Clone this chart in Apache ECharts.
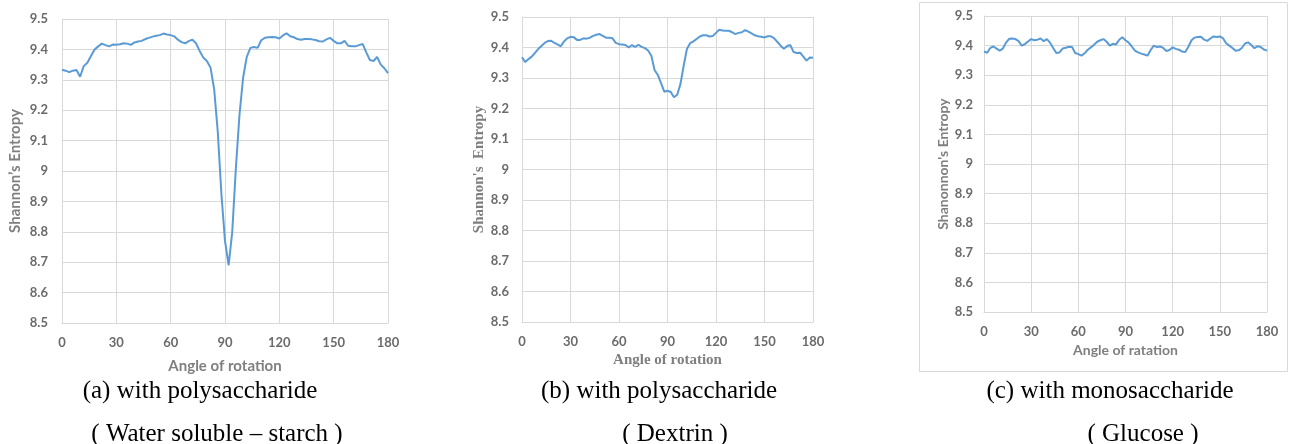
<!DOCTYPE html>
<html>
<head>
<meta charset="utf-8">
<script src="https://cdn.jsdelivr.net/npm/echarts@6/dist/echarts.min.js"></script>
<style>
    html, body { margin: 0; padding: 0; background: #fff; }
    #entropy { width: 1289px; height: 444px; }
</style>
</head>
<body>
<div id="entropy"></div>
<script>
// angle of rotation (deg), 2 deg steps
var angles = [
    0, 2, 4, 6, 8, 10, 12, 14, 16, 18,
    20, 22, 24, 26, 28, 30, 32, 34, 36, 38,
    40, 42, 44, 46, 48, 50, 52, 54, 56, 58,
    60, 62, 64, 66, 68, 70, 72, 74, 76, 78,
    80, 82, 84, 86, 88, 90, 92, 94, 96, 98,
    100, 102, 104, 106, 108, 110, 112, 114, 116, 118,
    120, 122, 124, 126, 128, 130, 132, 134, 136, 138,
    140, 142, 144, 146, 148, 150, 152, 154, 156, 158,
    160, 162, 164, 166, 168, 170, 172, 174, 176, 178,
    180
];

// (a) water soluble starch
var entropyA = [
    9.333, 9.330, 9.325, 9.330, 9.332, 9.310, 9.345, 9.356, 9.378, 9.400,
    9.410, 9.419, 9.414, 9.410, 9.416, 9.415, 9.417, 9.420, 9.419, 9.415,
    9.423, 9.426, 9.428, 9.434, 9.438, 9.442, 9.445, 9.447, 9.452, 9.449,
    9.447, 9.443, 9.432, 9.424, 9.420, 9.427, 9.432, 9.420, 9.395, 9.373,
    9.362, 9.340, 9.270, 9.130, 8.925, 8.770, 8.690, 8.800, 9.010, 9.185,
    9.307, 9.375, 9.405, 9.408, 9.405, 9.430, 9.438, 9.440, 9.441, 9.440,
    9.436, 9.446, 9.453, 9.443, 9.440, 9.434, 9.432, 9.434, 9.434, 9.433,
    9.431, 9.427, 9.426, 9.433, 9.438, 9.428, 9.420, 9.420, 9.428, 9.412,
    9.410, 9.410, 9.414, 9.418, 9.390, 9.365, 9.362, 9.375, 9.350, 9.338,
    9.322
];

// (b) dextrin
var entropyB = [
    9.368, 9.352, 9.362, 9.370, 9.382, 9.395, 9.405, 9.415, 9.421, 9.422,
    9.415, 9.410, 9.404, 9.420, 9.430, 9.435, 9.434, 9.425, 9.425, 9.430,
    9.429, 9.432, 9.438, 9.442, 9.444, 9.438, 9.432, 9.432, 9.430, 9.415,
    9.411, 9.410, 9.408, 9.400, 9.408, 9.402, 9.409, 9.402, 9.398, 9.390,
    9.373, 9.326, 9.310, 9.283, 9.255, 9.258, 9.254, 9.237, 9.245, 9.280,
    9.340, 9.395, 9.414, 9.420, 9.428, 9.436, 9.440, 9.440, 9.436, 9.438,
    9.448, 9.458, 9.456, 9.455, 9.455, 9.450, 9.444, 9.448, 9.450, 9.457,
    9.452, 9.446, 9.440, 9.437, 9.435, 9.433, 9.437, 9.437, 9.430, 9.418,
    9.406, 9.396, 9.405, 9.408, 9.385, 9.382, 9.383, 9.370, 9.357, 9.367,
    9.366
];

// (c) glucose
var entropyC = [
    9.380, 9.376, 9.392, 9.397, 9.390, 9.383, 9.390, 9.410, 9.423, 9.424,
    9.422, 9.415, 9.400, 9.405, 9.414, 9.422, 9.418, 9.420, 9.424, 9.415,
    9.422, 9.410, 9.392, 9.375, 9.377, 9.390, 9.393, 9.396, 9.395, 9.375,
    9.371, 9.366, 9.374, 9.386, 9.394, 9.403, 9.413, 9.418, 9.422, 9.413,
    9.400, 9.406, 9.404, 9.420, 9.428, 9.418, 9.410, 9.397, 9.383, 9.377,
    9.373, 9.370, 9.366, 9.385, 9.400, 9.395, 9.397, 9.392, 9.382, 9.385,
    9.394, 9.389, 9.386, 9.380, 9.378, 9.396, 9.418, 9.427, 9.429, 9.430,
    9.420, 9.416, 9.424, 9.431, 9.429, 9.431, 9.425, 9.408, 9.400, 9.392,
    9.383, 9.384, 9.392, 9.407, 9.411, 9.402, 9.391, 9.398, 9.395, 9.387,
    9.383
];

var xNames = ['Angle of rotation', 'Angle of rotation', 'Angle of ratation'];
var yNames = ["Shannon’s Entropy", "Shannon's  Entropy", "Shanonnon's Entropy"];
var captions = [
    ['(a) with polysaccharide', '( Water soluble \u2013 starch )'],
    ['(b) with polysaccharide', '( Dextrin )'],
    ['(c) with monosaccharide', '( Glucose )']
];

(function(){
    var entropy_chart = {
        $chart: null,
        gridColor: '#d9d9d9',
        lineColor: '#5b9bd5',

        init: function(){
            this.$chart = echarts.init(document.getElementById('entropy'), null, {renderer: 'canvas'});
            this.render();
        },

        pairs: function(vals) {
            return angles.map(function(a, i){ return [a, vals[i]]; });
        },

        xAxis: function(idx, name, font, size, gap) {
            return {
                type: 'value', gridIndex: idx, min: 0, max: 180, interval: 30,
                name: name, nameLocation: 'middle', nameGap: gap,
                nameTextStyle: {color: '#7f7f7f', fontSize: size, fontWeight: 'bold', fontFamily: font},
                axisLine: {show: true, lineStyle: {color: this.gridColor}},
                axisTick: {show: false},
                axisLabel: {color: '#6b6b6b', fontSize: 13, fontWeight: 'bold', fontFamily: 'Lato', margin: 13},
                splitLine: {show: true, lineStyle: {color: this.gridColor}}
            };
        },

        yAxis: function(idx, name, font, size, gap, labelMargin) {
            return {
                type: 'value', gridIndex: idx, min: 8.5, max: 9.5, interval: 0.1,
                name: name, nameLocation: 'middle', nameGap: gap,
                nameTextStyle: {color: '#7f7f7f', fontSize: size, fontWeight: 'bold', fontFamily: font},
                axisLine: {show: true, lineStyle: {color: this.gridColor}},
                axisTick: {show: false},
                axisLabel: {
                    color: '#6b6b6b', fontSize: 13, fontWeight: 'bold', fontFamily: 'Lato', margin: labelMargin,
                    formatter: function(v){ return String(Math.round(v * 10) / 10); }
                },
                splitLine: {show: true, lineStyle: {color: this.gridColor}}
            };
        },

        render: function() {
            var ctx = this;
            var series = [entropyA, entropyB, entropyC].map(function(vals, i){
                return {
                    type: 'line', xAxisIndex: i, yAxisIndex: i,
                    data: ctx.pairs(vals), symbol: 'none', smooth: false,
                    lineStyle: {color: ctx.lineColor, width: 2}
                };
            });

            // caption centres, line 1 / line 2
            var centers = [[200, 217], [659, 675], [1110, 1143]];
            var graphic = [{
                type: 'rect', shape: {x: 919.5, y: 2.5, width: 368, height: 369},
                style: {fill: null, stroke: '#d9d9d9', lineWidth: 1}, silent: true
            }];
            captions.forEach(function(c, i){
                graphic.push({
                    type: 'text', x: centers[i][0], y: 391,
                    style: {text: c[0], font: '25px "Liberation Serif"', fill: '#000', align: 'center', verticalAlign: 'middle'}
                });
                graphic.push({
                    type: 'text', x: centers[i][1], y: 434,
                    style: {text: c[1], font: '25px "Liberation Serif"', fill: '#000', align: 'center', verticalAlign: 'middle'}
                });
            });

            var option = {
                backgroundColor: '#fff',
                animation: false,
                grid: [
                    {left: 62, top: 19, width: 326, height: 304},
                    {left: 522, top: 17, width: 291, height: 305},
                    {left: 984, top: 16, width: 283, height: 296}
                ],
                xAxis: [
                    ctx.xAxis(0, xNames[0], 'Lato', 15, 36),
                    ctx.xAxis(1, xNames[1], 'Liberation Serif', 15, 29),
                    ctx.xAxis(2, xNames[2], 'Lato', 14, 31)
                ],
                yAxis: [
                    ctx.yAxis(0, yNames[0], 'Lato', 15, 39, 14),
                    ctx.yAxis(1, yNames[1], 'Liberation Serif', 15, 33, 13),
                    ctx.yAxis(2, yNames[2], 'Lato', 14, 34, 11)
                ],
                series: series,
                graphic: graphic
            };
            ctx.$chart.setOption(option);
        }
    };
    entropy_chart.init();
})();
</script>
</body>
</html>
